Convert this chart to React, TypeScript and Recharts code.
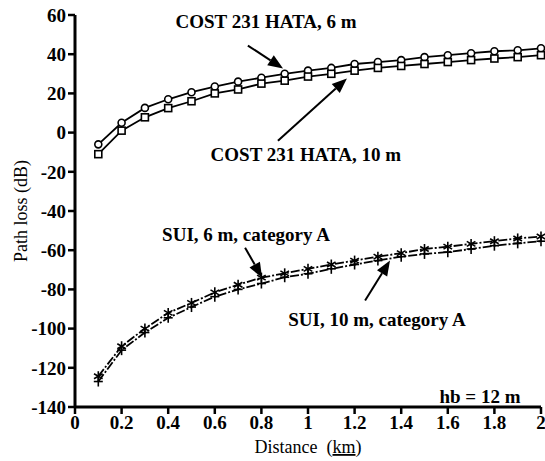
import React from 'react';
import { LineChart, Line, XAxis, YAxis, ReferenceLine, ReferenceDot } from 'recharts';

const distances = [0.1, 0.2, 0.3, 0.4, 0.5, 0.6, 0.7, 0.8, 0.9, 1.0, 1.1, 1.2, 1.3, 1.4, 1.5, 1.6, 1.7, 1.8, 1.9, 2.0];
const cost6 = [-6, 5, 12.6, 17, 20.6, 23.5, 26, 28, 30, 31.6, 33, 35, 36, 37, 38.5, 39.5, 40.5, 41.5, 42, 43];
const cost10 = [-11, 1, 7.8, 12.5, 16, 20, 22, 25, 26.5, 28.6, 30, 31.6, 33, 34, 35, 36, 37, 37.8, 38.5, 39.5];
const sui6 = [-124.3, -109, -100, -92, -86.9, -81.5, -77.6, -74, -71.8, -69.5, -67.3, -65.3, -63.3, -61.5, -59.4, -58.2, -56.8, -55.4, -54, -53];
const sui10 = [-127, -111, -102, -94.5, -89, -83.7, -80, -77, -73.8, -72, -69.5, -67.3, -65.3, -63.3, -61.9, -61, -59.4, -57.7, -56.5, -55.4];

const xTicks = [0, 0.2, 0.4, 0.6, 0.8, 1, 1.2, 1.4, 1.6, 1.8, 2];
const yTicks = [-140, -120, -100, -80, -60, -40, -20, 0, 20, 40, 60];

const labels = [
  { text: 'COST 231 HATA, 6 m', x: 0.82, y: 53.6 },
  { text: 'COST 231 HATA, 10 m', x: 0.991, y: -14.3 },
  { text: 'SUI, 6 m, category A', x: 0.734, y: -55.1 },
  { text: 'SUI, 10 m, category A', x: 1.296, y: -98.5 },
  { text: 'hb = 12 m', x: 1.738, y: -137.8 },
];

const arrows = [
  { from: { x: 0.742, y: 44.4 }, to: { x: 0.893, y: 32.7 } },
  { from: { x: 0.871, y: -4.1 }, to: { x: 1.167, y: 27.6 } },
  { from: { x: 0.73, y: -58.7 }, to: { x: 0.803, y: -74 } },
  { from: { x: 1.245, y: -85.7 }, to: { x: 1.352, y: -65.3 } },
];

const data = distances.map((d, i) => ({
  d,
  cost6: cost6[i],
  cost10: cost10[i],
  sui6: sui6[i],
  sui10: sui10[i],
}));

const FONT = "'Liberation Serif', 'Times New Roman', serif";

const CircleDot = (p: any) => (
  <circle key={`c${p.index}`} cx={p.cx} cy={p.cy} r={3.5} fill="#fff" stroke="#000" strokeWidth={1.6} />
);
const SquareDot = (p: any) => (
  <rect key={`s${p.index}`} x={p.cx - 3.5} y={p.cy - 3.5} width={7} height={7} fill="#fff" stroke="#000" strokeWidth={1.6} />
);
const StarDot = (p: any) => (
  <g key={`a${p.index}`} stroke="#000" strokeWidth={1.6}>
    <line x1={p.cx} y1={p.cy - 5} x2={p.cx} y2={p.cy + 5} />
    <line x1={p.cx - 4.3} y1={p.cy - 2.5} x2={p.cx + 4.3} y2={p.cy + 2.5} />
    <line x1={p.cx - 4.3} y1={p.cy + 2.5} x2={p.cx + 4.3} y2={p.cy - 2.5} />
  </g>
);
const PlusDot = (p: any) => (
  <g key={`p${p.index}`} stroke="#000" strokeWidth={1.6}>
    <line x1={p.cx} y1={p.cy - 5} x2={p.cx} y2={p.cy + 5} />
    <line x1={p.cx - 4.5} y1={p.cy} x2={p.cx + 4.5} y2={p.cy} />
  </g>
);

const ArrowShape = (p: any) => {
  const { x1, y1, x2, y2 } = p;
  const dx = x2 - x1;
  const dy = y2 - y1;
  const len = Math.sqrt(dx * dx + dy * dy) || 1;
  const ux = dx / len;
  const uy = dy / len;
  const hl = 15;
  const hw = 6;
  const bx = x2 - ux * hl;
  const by = y2 - uy * hl;
  const pts = `${x2},${y2} ${bx - uy * hw},${by + ux * hw} ${bx + uy * hw},${by - ux * hw}`;
  return (
    <g>
      <line x1={x1} y1={y1} x2={bx} y2={by} stroke="#000" strokeWidth={2} />
      <polygon points={pts} fill="#000" />
    </g>
  );
};

const TextShape = (text: string) => (p: any) => (
  <text x={p.cx} y={p.cy} textAnchor="middle" fontFamily={FONT} fontWeight="bold" fontSize={19} fill="#000">
    {text}
  </text>
);

const YLabel = (props: any) => {
  const vb = props.viewBox || {};
  const cx = 21;
  const cy = (vb.y ?? 15) + (vb.height ?? 392) / 2;
  return (
    <text x={cx} y={cy} transform={`rotate(-90, ${cx}, ${cy})`} textAnchor="middle" dominantBaseline="central" fontFamily={FONT} fontSize={18} fill="#000">
      Path loss (dB)
    </text>
  );
};

const XLabel = (props: any) => {
  const vb = props.viewBox || {};
  const cx = (vb.x ?? 75) + (vb.width ?? 466) / 2;
  return (
    <text x={cx} y={453} textAnchor="middle" fontFamily={FONT} fontSize={18} fill="#000">
      Distance{'\u00a0\u00a0'}(<tspan textDecoration="underline">km</tspan>)
    </text>
  );
};

const tickStyle = { fontFamily: FONT, fontWeight: 'bold' as const, fontSize: 19, fill: '#000' };

export default function App() {
  return (
    <div style={{ position: 'absolute', left: 0, top: 0, background: '#fff' }}>
      <LineChart width={545} height={461} data={data} margin={{ top: 15, right: 4, bottom: 0, left: 0 }}>
        <XAxis
          dataKey="d"
          type="number"
          domain={[0, 2]}
          ticks={xTicks}
          tickFormatter={(v: number) => String(v)}
          height={54}
          axisLine={{ stroke: '#000', strokeWidth: 3 }}
          tickLine={{ stroke: '#000', strokeWidth: 2.5 }}
          tickSize={7}
          tickMargin={2}
          tick={tickStyle}
          interval={0}
          label={<XLabel />}
        />
        <YAxis
          type="number"
          domain={[-140, 60]}
          ticks={yTicks}
          width={75}
          axisLine={{ stroke: '#000', strokeWidth: 3 }}
          tickLine={{ stroke: '#000', strokeWidth: 2.5 }}
          tickSize={7}
          tickMargin={2}
          tick={tickStyle}
          interval={0}
          label={<YLabel />}
        />
        <Line dataKey="cost6" stroke="#000" strokeWidth={1.8} dot={CircleDot} isAnimationActive={false} />
        <Line dataKey="cost10" stroke="#000" strokeWidth={1.8} dot={SquareDot} isAnimationActive={false} />
        <Line dataKey="sui6" stroke="#000" strokeWidth={1.8} strokeDasharray="9 2 2 2" dot={StarDot} isAnimationActive={false} />
        <Line dataKey="sui10" stroke="#000" strokeWidth={1.8} strokeDasharray="9 2 2 2" dot={PlusDot} isAnimationActive={false} />
        {arrows.map((a, i) => (
          <ReferenceLine key={`ar${i}`} segment={[a.from, a.to]} shape={ArrowShape} ifOverflow="visible" />
        ))}
        {labels.map((l, i) => (
          <ReferenceDot key={`lb${i}`} x={l.x} y={l.y} r={0} shape={TextShape(l.text)} ifOverflow="visible" />
        ))}
      </LineChart>
    </div>
  );
}
